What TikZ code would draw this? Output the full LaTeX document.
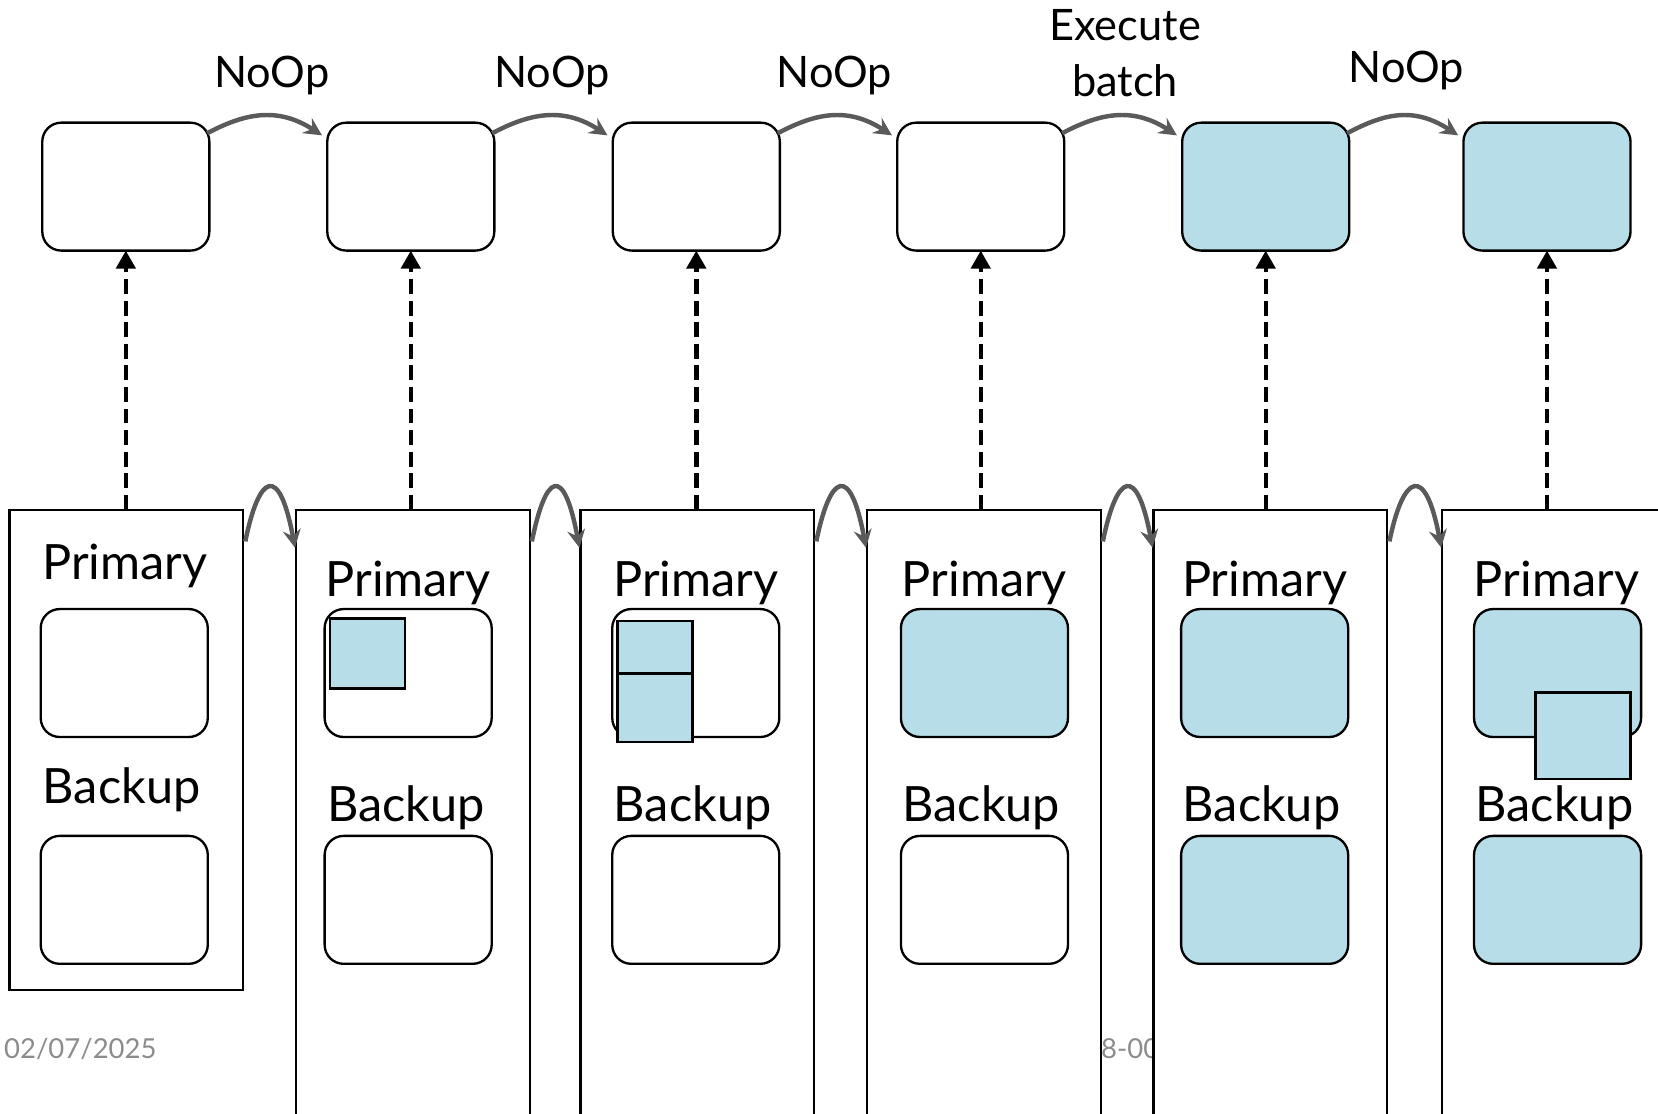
\documentclass[tikz,border=0pt]{standalone}
\usepackage{fontspec}
\setmainfont{Lato}
\usetikzlibrary{arrows.meta,calc}
\definecolor{cellblue}{HTML}{B7DDE8}
\definecolor{linkgray}{HTML}{5A5A5A}
\definecolor{footgray}{HTML}{8C8C8C}

\begin{document}
\begin{tikzpicture}[x=0.5pt,y=-0.5pt,
  slot/.style={draw=black, line width=1.1pt, rounded corners=9pt,
    minimum width=79pt, minimum height=60.5pt, inner sep=0pt, outer sep=0pt},
  filled/.style={fill=cellblue},
  column/.style={draw=black, line width=1.1pt, fill=white, inner sep=0pt,
    outer sep=0pt, minimum width=110.5pt, anchor=north west},
  chip/.style={draw=black, line width=1.1pt, fill=cellblue, inner sep=0pt, outer sep=0pt},
  steplabel/.style={font=\fontsize{20.5}{26.5}\selectfont, align=center, inner sep=0pt},
  rolelabel/.style={font=\fontsize{23}{27}\selectfont, inner sep=0pt},
  footlabel/.style={font=\fontsize{13}{15}\selectfont, text=footgray, inner sep=0pt},
  flow/.style={draw=linkgray, line width=2.1pt, -{Stealth[length=8.5pt,width=8.5pt,inset=3pt]}},
  dasharrow/.style={draw=black, line width=2.1pt, dash pattern=on 7pt off 3.2pt,
    -{Triangle[length=8.5pt,width=9pt]}},
]
\useasboundingbox (0,0) rectangle (1568,1053);
\clip (0,0) rectangle (1568,1053);

% footer texts, partly hidden behind the columns
\node[footlabel] (date) at (76,992) {02/07/2025};
\node[footlabel, anchor=west] (ref) at (1041,992) {8-00};

% top row: log slots
\node[slot] (t1) at (119,176.5) {};
\node[slot] (t2) at (388.5,176.5) {};
\node[slot] (t3) at (658.5,176.5) {};
\node[slot] (t4) at (927.5,176.5) {};
\node[slot, filled] (t5) at (1197,176.5) {};
\node[slot, filled] (t6) at (1463,176.5) {};

% operations between slots
\node[steplabel] (l1) at (257,71) {NoOp};
\node[steplabel] (l2) at (522,71) {NoOp};
\node[steplabel] (l3) at (789,71) {NoOp};
\node[steplabel] (l4) at (1064,50.5) {Execute\\batch};
\node[steplabel] (l5) at (1330,67) {NoOp};

\foreach \a/\b in {t1/t2,t2/t3,t3/t4,t4/t5,t5/t6}{
  \draw[flow] ($(\a.north east)+(-2,10)$) .. controls +(34,-18) and +(-43,-28) ..
    ($(\b.north west)+(-5,12)$);
}

% bottom row: replica states
\node[column, minimum height=227pt] (c1) at (9,482) {};
\node[column, minimum height=300pt] (c2) at (280,482) {};
\node[column, minimum height=300pt] (c3) at (549,482) {};
\node[column, minimum height=300pt] (c4) at (820,482) {};
\node[column, minimum height=300pt] (c5) at (1091,482) {};
\node[column, minimum height=300pt] (c6) at (1364,482) {};

% column 1
\node[rolelabel] (p1) at (118,535) {Primary};
\node[slot] (pb1) at (117.5,636.5) {};
\node[rolelabel] (b1) at (115,747) {Backup};
\node[slot] (bb1) at (117.5,851) {};

% column 2
\node[rolelabel] (p2) at (386,551) {Primary};
\node[slot] (pb2) at (386,636.5) {};
\node[chip, minimum width=35.5pt, minimum height=33pt] (q2) at (347.5,618) {};
\node[rolelabel] (b2) at (384,764) {Backup};
\node[slot] (bb2) at (386,851) {};

% column 3
\node[rolelabel] (p3) at (658,551) {Primary};
\node[slot] (pb3) at (658,636.5) {};
\node[chip, minimum width=35.5pt, minimum height=25pt] (q3a) at (619.5,612) {};
\node[chip, minimum width=35.5pt, minimum height=32.5pt] (q3b) at (619.5,669.5) {};
\node[rolelabel] (b3) at (655,764) {Backup};
\node[slot] (bb3) at (658,851) {};

% column 4
\node[rolelabel] (p4) at (931,551) {Primary};
\node[slot, filled] (pb4) at (931,636.5) {};
\node[rolelabel] (b4) at (928,764) {Backup};
\node[slot] (bb4) at (931,851) {};

% column 5
\node[rolelabel] (p5) at (1196,551) {Primary};
\node[slot, filled] (pb5) at (1196,636.5) {};
\node[rolelabel] (b5) at (1193,764) {Backup};
\node[slot, filled] (bb5) at (1196,851) {};

% column 6
\node[rolelabel] (p6) at (1472,551) {Primary};
\node[slot, filled] (pb6) at (1473,636.5) {};
\node[chip, minimum width=45pt, minimum height=41pt] (q6) at (1497,696) {};
\node[rolelabel] (b6) at (1470,764) {Backup};
\node[slot, filled] (bb6) at (1473,851) {};

% hand-offs between replica states
\foreach \a/\b in {c1/c2,c2/c3,c3/c4,c4/c5,c5/c6}{
  \draw[flow] ($(\a.north east)+(2,30)$) .. controls +(13,-64) and +(-15,-80) ..
    ($(\b.north west)+(-1,36)$);
}

% each state maps onto its log slot
\foreach \i in {1,...,6}{
  \draw[dasharrow] (t\i.south |- c\i.north) -- (t\i.south);
}
\end{tikzpicture}
\end{document}
